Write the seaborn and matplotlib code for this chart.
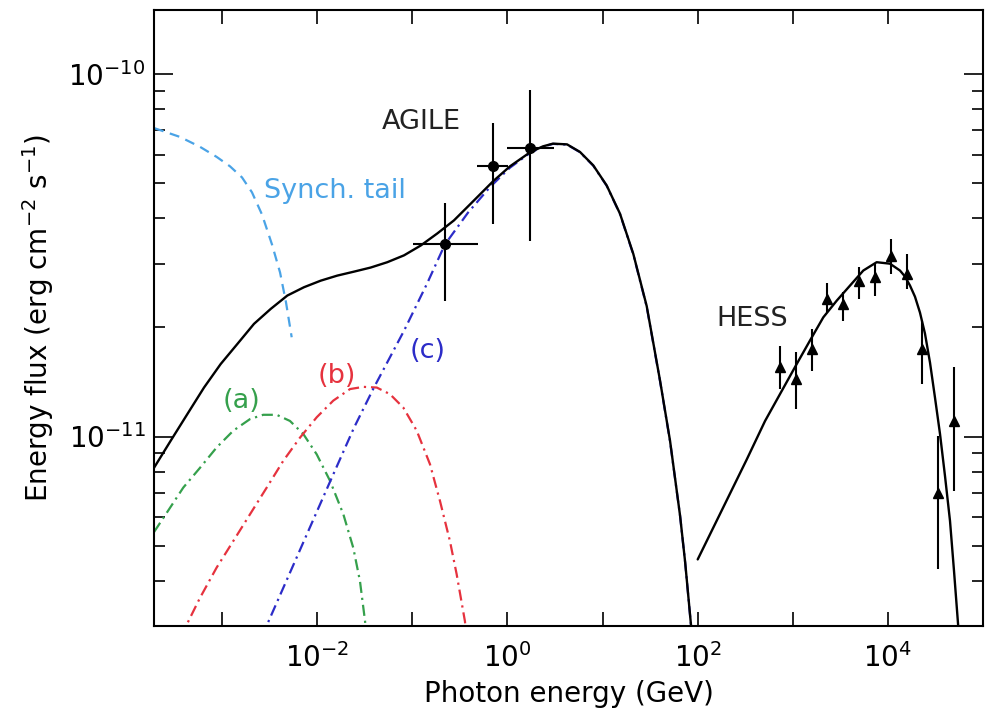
import numpy as np
import pandas as pd
import matplotlib
matplotlib.use("Agg")
import matplotlib.pyplot as plt
import matplotlib.ticker as mticker
import seaborn as sns

# ---------------- data (E in GeV, flux in 1e-11 erg cm^-2 s^-1) ----------------
total_E = [1.92e-4, 2.87e-4, 4.30e-4, 6.44e-4, 9.64e-4, 1.44e-3, 2.16e-3, 3.24e-3,
           4.84e-3, 7.24e-3, 0.01086, 0.01622, 0.02432, 0.0364, 0.05445, 0.08166,
           0.1222, 0.1828, 0.2735, 0.4033, 0.704, 1.062, 1.726, 2.362, 3.006, 4.23,
           5.78, 7.98, 11.04, 15.24, 21.04, 29.1, 40.2, 51.2, 65.3, 73.8, 83.2, 87.3]
total_F = [0.820, 0.973, 1.153, 1.365, 1.585, 1.799, 2.046, 2.250,
           2.449, 2.582, 2.692, 2.780, 2.851, 2.926, 3.027, 3.162,
           3.365, 3.634, 3.948, 4.370, 5.060, 5.567, 6.085, 6.32, 6.43, 6.40,
           6.10, 5.60, 4.93, 4.12, 3.19, 2.29, 1.426, 0.973, 0.604, 0.450, 0.321, 0.281]

synch_E = [1.92e-4, 3.60e-4, 5.85e-4, 8.75e-4, 1.208e-3, 1.615e-3, 2.056e-3, 2.62e-3,
           3.34e-3, 4.06e-3, 4.69e-3, 5.38e-3]
synch_F = [7.10, 6.71, 6.30, 5.91, 5.567, 5.189, 4.72, 4.10,
           3.388, 2.835, 2.344, 1.879]

a_E = [1.92e-4, 2.82e-4, 3.90e-4, 5.85e-4, 8.75e-4, 1.31e-3, 1.96e-3, 2.70e-3, 3.74e-3,
       5.16e-3, 7.13e-3, 9.86e-3, 0.0136, 0.0188, 0.0239, 0.0281, 0.0318, 0.0327]
a_F = [0.545, 0.635, 0.723, 0.820, 0.933, 1.038, 1.117, 1.148, 1.148,
       1.104, 1.016, 0.893, 0.755, 0.610, 0.493, 0.399, 0.309, 0.275]

b_E = [3.72e-4, 4.06e-4, 5.85e-4, 8.75e-4, 1.31e-3, 1.96e-3, 2.94e-3, 4.39e-3, 6.58e-3,
       9.86e-3, 0.01472, 0.0221, 0.0305, 0.0422, 0.0581, 0.0802, 0.111, 0.153,
       0.195, 0.248, 0.292, 0.357, 0.372]
b_F = [0.28, 0.296, 0.359, 0.435, 0.515, 0.610, 0.723, 0.857, 0.993,
       1.130, 1.256, 1.352, 1.371, 1.365, 1.309, 1.202, 1.038, 0.839,
       0.664, 0.515, 0.417, 0.309, 0.275]

c_E = [2.63e-3, 2.89e-3, 0.0136, 0.0243, 0.0394, 0.0817, 0.1426, 0.220, 0.385, 0.655,
       1.062, 1.726, 2.362, 3.006, 4.23, 5.78, 7.98, 11.04, 15.24, 21.04, 29.1, 40.2,
       51.2, 65.3, 73.8, 83.2, 87.3]
c_F = [0.28, 0.298, 0.750, 1.057, 1.365, 1.959, 2.642, 3.39, 4.15, 4.88,
       5.52, 6.06, 6.31, 6.42, 6.39, 6.09, 5.59, 4.92, 4.11, 3.18, 2.28, 1.42,
       0.97, 0.603, 0.449, 0.320, 0.280]

hess_model_E = [100, 327, 511, 733, 1099, 1517, 2094, 2897, 3999, 5512, 7621, 10510,
                13400, 15140, 17070, 19260, 21740, 24540, 27710, 31290, 35320, 39850,
                44980, 49550, 54970, 56230]
hess_model_F = [0.458, 0.863, 1.104, 1.309, 1.585, 1.841, 2.133, 2.371, 2.610, 2.871,
                3.027, 2.999, 2.871, 2.763, 2.610, 2.432, 2.198, 1.923, 1.600, 1.279,
                1.016, 0.778, 0.585, 0.426, 0.298, 0.275]

agile_E = [0.220, 0.709, 1.73]
agile_E_lo = [0.1007, 0.474, 0.995]
agile_E_hi = [0.493, 1.02, 3.08]
agile_F = [3.40, 5.57, 6.25]
agile_F_lo = [2.37, 3.86, 3.47]
agile_F_hi = [4.40, 7.31, 9.07]

hess_E = [733, 1089, 1581, 2270, 3396, 5000, 7311, 10690, 15780, 23010, 33880, 49550]
hess_F = [1.552, 1.442, 1.746, 2.399, 2.323, 2.692, 2.754, 3.141, 2.812, 1.746, 0.700, 1.104]
hess_F_lo = [1.352, 1.191, 1.521, 2.203, 2.089, 2.399, 2.449, 2.812, 2.553, 1.396, 0.430, 0.708]
hess_F_hi = [1.782, 1.706, 1.982, 2.649, 2.500, 2.931, 2.999, 3.516, 3.192, 2.089, 1.005, 1.552]

x_tick_exps = [-3, -2, -1, 0, 1, 2, 3, 4, 5]
y_tick_exps = [-11, -10]

UNIT = 1e-11
COL_SYN = "#4aa3e6"
COL_A = "#35a04c"
COL_B = "#e6323e"
COL_C = "#2c2cc8"

# ---------------- figure ----------------
sns.set_theme(style="ticks")
plt.rcParams["font.family"] = ["DejaVu Sans"]
plt.rcParams["mathtext.fontset"] = "dejavusans"

fig = plt.figure(figsize=(9.92, 7.12), dpi=100)
ax = fig.add_axes([154 / 992, 1 - 626 / 712, (983 - 154) / 992, (626 - 10) / 712])
ax.set_xscale("log")
ax.set_yscale("log")


def line(E, F, color, ls, lw=1.6, z=2):
    df = pd.DataFrame({"E": E, "F": np.asarray(F) * UNIT})
    sns.lineplot(data=df, x="E", y="F", ax=ax, color=color, linestyle=ls,
                 linewidth=lw, estimator=None, sort=False, zorder=z)


dashdot = (0, (5, 2.2, 1, 2.2))
line(synch_E, synch_F, COL_SYN, (0, (4.5, 3)))
line(a_E, a_F, COL_A, dashdot)
line(b_E, b_F, COL_B, dashdot)
line(c_E, c_F, COL_C, dashdot)
line(total_E, total_F, "black", "-", lw=1.7, z=3)
line(hess_model_E, hess_model_F, "black", "-", lw=1.7, z=3)

aE = np.array(agile_E)
aF = np.array(agile_F) * UNIT
ax.errorbar(aE, aF,
            xerr=[aE - np.array(agile_E_lo), np.array(agile_E_hi) - aE],
            yerr=[aF - np.array(agile_F_lo) * UNIT, np.array(agile_F_hi) * UNIT - aF],
            fmt="o", color="black", ms=7, elinewidth=1.5, capsize=0, zorder=4)

hE = np.array(hess_E)
hF = np.array(hess_F) * UNIT
ax.errorbar(hE, hF,
            yerr=[hF - np.array(hess_F_lo) * UNIT, np.array(hess_F_hi) * UNIT - hF],
            fmt="^", color="black", ms=7.5, elinewidth=1.5, capsize=0, zorder=4)

ax.set_xlim(10 ** -3.717, 1e5)
ax.set_ylim(3e-12, 10 ** -9.823)

# ticks
ax.xaxis.set_major_locator(mticker.FixedLocator([10.0 ** e for e in x_tick_exps]))
ax.xaxis.set_minor_locator(mticker.NullLocator())
ax.xaxis.set_major_formatter(mticker.FuncFormatter(
    lambda v, p: r"$10^{%d}$" % round(np.log10(v)) if round(np.log10(v)) % 2 == 0 else ""))
ax.yaxis.set_major_locator(mticker.FixedLocator([10.0 ** e for e in y_tick_exps]))
ax.yaxis.set_minor_locator(mticker.LogLocator(base=10, subs=np.arange(2, 10), numticks=20))
ax.yaxis.set_major_formatter(mticker.FuncFormatter(
    lambda v, p: r"$10^{%d}$" % round(np.log10(v))))
ax.yaxis.set_minor_formatter(mticker.NullFormatter())

ax.tick_params(axis="both", which="both", direction="in", top=True, right=True,
               colors="black", labelsize=20, width=1.2)
ax.tick_params(axis="x", which="major", length=10, pad=12)
ax.tick_params(axis="y", which="major", length=14, pad=6)
ax.tick_params(axis="y", which="minor", length=8)
for s in ax.spines.values():
    s.set_linewidth(1.5)
    s.set_color("black")

ax.set_xlabel("Photon energy (GeV)", fontsize=20, color="black")
ax.set_ylabel(r"Energy flux (erg cm$^{-2}$ s$^{-1}$)", fontsize=20, color="black")
ax.xaxis.set_label_coords(0.5, -0.088)
ax.yaxis.set_label_coords(-0.118, 0.5)

# annotations
tk = dict(fontsize=19.5, ha="center", va="center")
ax.text(10 ** -0.910, 10 ** -10.133, "AGILE", color="#222222", **tk)
ax.text(10 ** 2.576, 10 ** -10.675, "HESS", color="#222222", **tk)
ax.text(10 ** -1.814, 10 ** -10.323, "Synch. tail", color=COL_SYN, **tk)
ax.text(10 ** -2.795, 10 ** -10.901, "(a)", color=COL_A, **tk)
ax.text(10 ** -1.796, 10 ** -10.832, "(b)", color=COL_B, **tk)
ax.text(10 ** -0.836, 10 ** -10.763, "(c)", color=COL_C, **tk)

fig.savefig("out.png", dpi=100)
